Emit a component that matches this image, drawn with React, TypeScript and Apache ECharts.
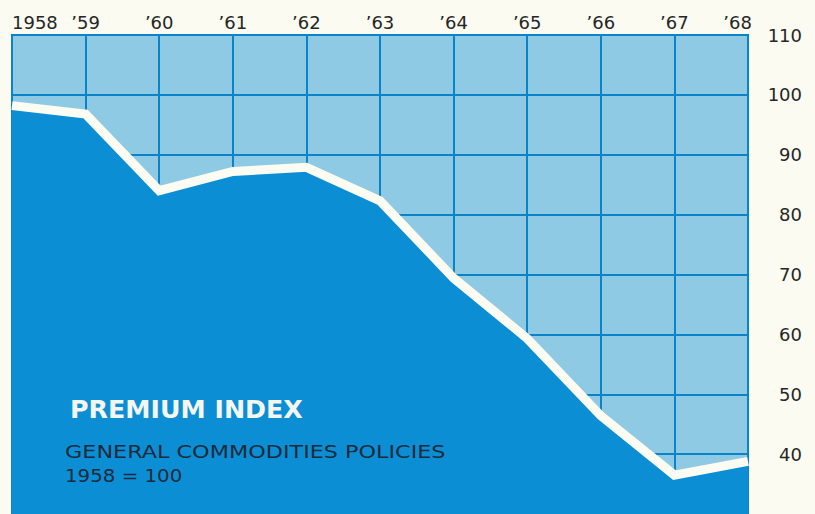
import React, { useEffect, useRef } from "react";
import * as echarts from "echarts";

const years = ["1958", "’59", "’60", "’61", "’62", "’63", "’64", "’65", "’66", "’67", "’68"];
const premiumIndex = [98.2, 96.8, 84.0, 87.2, 87.9, 82.3, 69.4, 59.3, 46.4, 36.5, 38.8];
const yTicks = { min: 30, max: 110, interval: 10 };
const titleText = "PREMIUM INDEX";
const subtitleLines = ["GENERAL COMMODITIES POLICIES", "1958 = 100"];

const BG = "#fbfbf1";
const LIGHT = "#8ecae3";
const DARK = "#0c8ed5";
const GRIDLINE = "#0b83c9";
const BAND = "#fcfcf2";
const LABEL = "#262626";
const SUB = "#1c2a3a";

export default function App() {
  const ref = useRef<HTMLDivElement>(null);
  useEffect(() => {
    if (!ref.current) return;
    const chart = echarts.init(ref.current, undefined, { renderer: "svg" });
    const last = years.length - 1;
    chart.setOption({
      animation: false,
      backgroundColor: BG,
      grid: {
        left: 12,
        right: 67,
        top: 35,
        bottom: -2,
        show: true,
        backgroundColor: LIGHT,
        borderColor: GRIDLINE,
        borderWidth: 2,
      },
      xAxis: {
        type: "category",
        position: "top",
        boundaryGap: false,
        data: years.map((y, i) =>
          i === 0
            ? { value: y, textStyle: { align: "left" } }
            : i === last
            ? { value: y, textStyle: { align: "right", padding: [0, -4, 0, 0] } }
            : y
        ),
        axisLine: { show: false },
        axisTick: { show: false },
        axisLabel: {
          fontFamily: "DejaVu Sans",
          fontSize: 18,
          color: LABEL,
          margin: 4,
        },
        splitLine: { show: true, lineStyle: { color: GRIDLINE, width: 2 } },
      },
      yAxis: {
        type: "value",
        position: "right",
        min: yTicks.min,
        max: yTicks.max,
        interval: yTicks.interval,
        axisLine: { show: false },
        axisTick: { show: false },
        axisLabel: {
          showMinLabel: false,
          fontFamily: "DejaVu Sans",
          fontSize: 18,
          color: LABEL,
          margin: 54,
          align: "right",
          padding: [6, 0, 0, 0],
        },
        splitLine: { show: true, lineStyle: { color: GRIDLINE, width: 2 } },
      },
      series: [
        {
          type: "line",
          data: premiumIndex,
          symbol: "none",
          lineStyle: { color: BAND, width: 9, join: "miter", cap: "butt" },
          areaStyle: { color: DARK, opacity: 1, origin: "start" },
          z: 3,
        },
      ],
      graphic: [
        {
          type: "text",
          x: 70,
          y: 410,
          scaleX: 1.055,
          z: 10,
          style: {
            text: titleText,
            font: "bold 24px 'DejaVu Sans'",
            fill: "#f4f6ef",
            textVerticalAlign: "middle",
          },
        },
        {
          type: "text",
          x: 65,
          y: 452,
          scaleX: 1.24,
          z: 10,
          style: {
            text: subtitleLines[0],
            font: "18px 'DejaVu Sans'",
            fill: SUB,
            textVerticalAlign: "middle",
          },
        },
        {
          type: "text",
          x: 65,
          y: 475,
          scaleX: 1.1,
          z: 10,
          style: {
            text: subtitleLines[1],
            font: "18px 'DejaVu Sans'",
            fill: SUB,
            textVerticalAlign: "middle",
          },
        },
      ],
    });
    return () => chart.dispose();
  }, []);
  return (
    <div
      ref={ref}
      style={{ position: "absolute", left: 0, top: 0, width: 815, height: 514, background: BG }}
    />
  );
}
